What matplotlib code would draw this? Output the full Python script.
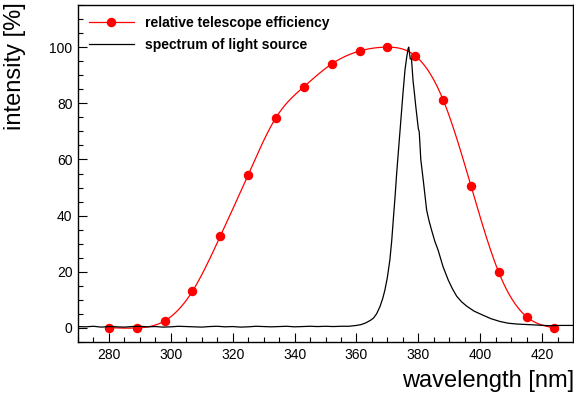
import numpy as np
import matplotlib
matplotlib.use("Agg")
import matplotlib.pyplot as plt
from matplotlib.ticker import MultipleLocator

plt.rcParams["font.family"] = ["Liberation Sans", "DejaVu Sans"]

# relative telescope efficiency (points every 9 nm)
eff_nm = [280, 289, 298, 307, 316, 325, 334, 343, 352, 361, 370, 379, 388, 397, 406, 415, 424]
eff_val = [0.1, 0.0, 2.5, 13.1, 32.7, 54.5, 74.9, 85.9, 94.0, 98.6, 100.0, 96.9, 81.3, 50.7, 19.8, 4.0, 0.0]

# measured spectrum of the light source
spec_nm = [270, 272.5, 275, 277.5, 280, 282.5, 285, 287.5, 290, 292.5, 295, 297.5,
           300, 302.5, 305, 307.5, 310, 312.5, 315, 317.5, 320, 322.5, 325, 327.5,
           330, 332.5, 335, 337.5, 340, 342.5, 345, 347.5, 350, 352.5, 355, 357.5,
           360, 361.5, 363, 364.5, 365.5, 366.5, 367.6, 368.5, 369.2, 370, 370.8,
           371.4, 371.9, 372.5, 373.0, 374, 375, 375.7, 376.2, 376.7, 376.9, 377.4,
           377.8, 378.3, 378.8, 379.2, 380.0, 380.3, 380.8, 381.6, 382.7, 383.5,
           384.3, 385.3, 386.4, 388.0, 389.7, 391, 392.4, 394, 395.6, 398, 401,
           403.5, 406.4, 409, 411.8, 417.2, 422.6, 426, 430]
spec_val = [0.5, 0.4, 0.6, 0.3, 0.5, 0.4, 0.3, 0.5, 0.6, 0.4, 0.5, 0.3,
            0.4, 0.6, 0.5, 0.4, 0.3, 0.5, 0.6, 0.4, 0.5, 0.3, 0.4, 0.6,
            0.5, 0.4, 0.5, 0.6, 0.4, 0.5, 0.6, 0.5, 0.6, 0.5, 0.6, 0.6,
            0.9, 1.2, 1.8, 2.7, 3.5, 5.0, 7.6, 10.5, 13.5, 18.0, 24.2,
            31.0, 38.4, 47.0, 55.0, 69.0, 83.0, 92.0, 96.0, 99.5, 100.0, 95.8,
            95.8, 88.0, 83.0, 78.7, 71.0, 69.8, 60.0, 52.6, 41.9, 38.0,
            34.8, 31.0, 27.7, 21.8, 17.0, 14.0, 11.3, 9.3, 7.8, 6.0, 4.5,
            3.3, 2.3, 1.7, 1.4, 1.1, 0.8, 0.9, 0.9]


def natural_spline(x, y, xs):
    x = np.asarray(x, float)
    y = np.asarray(y, float)
    n = len(x)
    h = np.diff(x)
    A = np.zeros((n, n))
    b = np.zeros(n)
    A[0, 0] = A[-1, -1] = 1
    for i in range(1, n - 1):
        A[i, i - 1] = h[i - 1]
        A[i, i] = 2 * (h[i - 1] + h[i])
        A[i, i + 1] = h[i]
        b[i] = 6 * ((y[i + 1] - y[i]) / h[i] - (y[i] - y[i - 1]) / h[i - 1])
    M = np.linalg.solve(A, b)
    idx = np.clip(np.searchsorted(x, xs) - 1, 0, n - 2)
    x0, x1 = x[idx], x[idx + 1]
    hh = x1 - x0
    t0, t1 = x1 - xs, xs - x0
    return (M[idx] * t0**3 / (6 * hh) + M[idx + 1] * t1**3 / (6 * hh)
            + (y[idx] / hh - M[idx] * hh / 6) * t0
            + (y[idx + 1] / hh - M[idx + 1] * hh / 6) * t1)


fig = plt.figure(figsize=(5.74, 3.96), dpi=100)
ax = fig.add_axes([78 / 574, 54 / 396, 495 / 574, 337 / 396])

xs = np.linspace(eff_nm[0], eff_nm[-1], 600)
ax.plot(xs, natural_spline(eff_nm, eff_val, xs), color="red", lw=0.9)
ax.plot(eff_nm, eff_val, "o", color="red", ms=5.8)
ax.plot(spec_nm, spec_val, color="black", lw=0.9)

# legend entries
ax.plot([], [], color="red", lw=0.9, marker="o", ms=5.8, label="relative telescope efficiency")
ax.plot([], [], color="black", lw=0.9, label="spectrum of light source")
leg = ax.legend(loc="upper left", bbox_to_anchor=(0.0, 1.0), frameon=False,
                prop={"weight": "bold", "size": 10}, handlelength=3.2,
                handletextpad=0.8, labelspacing=0.55, borderaxespad=0.4)

ax.set_xlim(270, 430)
ax.set_ylim(-5, 115)
ax.xaxis.set_major_locator(MultipleLocator(20))
ax.xaxis.set_minor_locator(MultipleLocator(5))
ax.yaxis.set_major_locator(MultipleLocator(20))
ax.yaxis.set_minor_locator(MultipleLocator(5))
ax.tick_params(which="both", direction="in", top=False, right=False, labelsize=10)
ax.tick_params(which="major", length=6.5, width=0.8)
ax.tick_params(which="minor", length=3.5, width=0.8)
ax.tick_params(axis="x", pad=4)
ax.tick_params(axis="y", pad=4)
for s in ax.spines.values():
    s.set_linewidth(1.0)

fig.text(15 / 574, 1 - 2 / 396, "intensity [%]", rotation=90, ha="center", va="top", fontsize=17)
fig.text(574 / 574, 1 - 381 / 396, "wavelength [nm]", ha="right", va="center", fontsize=17)

fig.savefig("out.png", dpi=100)
